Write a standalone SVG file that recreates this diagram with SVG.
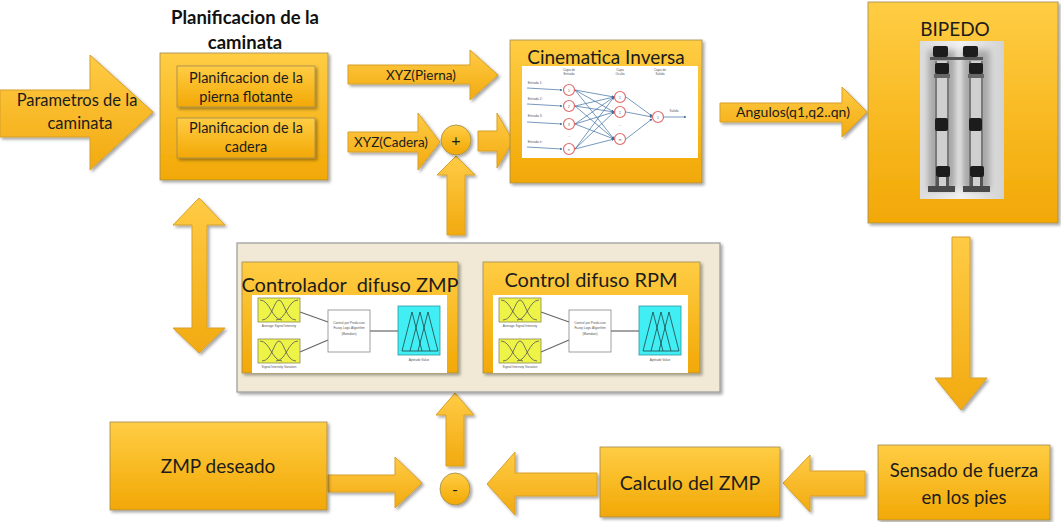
<svg xmlns="http://www.w3.org/2000/svg" width="1061" height="522" viewBox="0 0 1061 522">
<style>
.box{fill:url(#gBox);stroke:#a08a50;stroke-width:0.8;filter:url(#sh)}
.arr{fill:url(#gArr);stroke:#d6a02a;stroke-width:1;filter:url(#sh)}
.t{font-family:Lato,"Open Sans","Liberation Sans",sans-serif;fill:#1c1c1c;text-anchor:middle}
.tb{font-family:Lato,"Open Sans","Liberation Sans",sans-serif;font-weight:bold;fill:#111;text-anchor:middle}
.tiny{font-family:"Liberation Sans",Arial,sans-serif;fill:#555;text-anchor:middle;font-size:3.2px}
.nn{fill:#fff;stroke:#e06a6a;stroke-width:1.2}
.nl{stroke:#3c6ea0;stroke-width:0.7;fill:none}
.yel{fill:#eef348;stroke:#8a8a50;stroke-width:0.8}
.mf{fill:none;stroke:#555;stroke-width:0.8}
.cy{fill:#40eef4;stroke:#2a9aa0;stroke-width:0.8}
.tri{fill:none;stroke:#244;stroke-width:0.8}
.ln{stroke:#666;stroke-width:1.2}
.srv{fill:#1e1e1e}
.rod{fill:#7a7a7a}
.lsh{fill:#a8a8a8}
</style>
<defs>
<linearGradient id="gBox" x1="0" y1="0" x2="0" y2="1"><stop offset="0" stop-color="#ffcd44"/><stop offset="1" stop-color="#f2a805"/></linearGradient>
<linearGradient id="gArr" x1="0" y1="0" x2="0" y2="1"><stop offset="0" stop-color="#ffcb45"/><stop offset="1" stop-color="#f2aa10"/></linearGradient>
<linearGradient id="gPhoto" x1="0" y1="0" x2="1" y2="0"><stop offset="0" stop-color="#dcdcdc"/><stop offset="0.5" stop-color="#f2f2f2"/><stop offset="1" stop-color="#d2d2d2"/></linearGradient>
<filter id="sh" x="-10%" y="-10%" width="130%" height="130%"><feDropShadow dx="2" dy="2" stdDeviation="1.5" flood-color="#000" flood-opacity="0.35"/></filter>
<filter id="bl" x="-20%" y="-20%" width="140%" height="140%"><feGaussianBlur stdDeviation="0.6"/></filter>
<filter id="bl2" x="-50%" y="-20%" width="200%" height="140%"><feGaussianBlur stdDeviation="3"/></filter>
<marker id="ah" viewBox="0 0 6 6" refX="5" refY="3" markerWidth="4" markerHeight="4" orient="auto"><path d="M0,0 L6,3 L0,6 Z" fill="#3c6ea0"/></marker>
<g id="fuzzy">
<rect x="252" y="295" width="195" height="78" fill="#fff"/>
<line class="ln" x1="300" y1="312" x2="328" y2="322"/>
<line class="ln" x1="300" y1="352" x2="328" y2="340"/>
<line class="ln" x1="370" y1="331" x2="398" y2="331"/>
<rect class="yel" x="258" y="298" width="42" height="24"/>
<path class="mf" d="M260,300 C270,300 272,320 282,320 M276,320 C286,320 288,300 298,300 M262,320 C272,320 274,300 279,300 C284,300 286,320 296,320"/>
<text class="tiny" x="279" y="327">Average Signal Intensity</text>
<rect class="yel" x="258" y="339" width="42" height="24"/>
<path class="mf" d="M260,341 C270,341 272,361 282,361 M276,361 C286,361 288,341 298,341 M262,361 C272,361 274,341 279,341 C284,341 286,361 296,361"/>
<text class="tiny" x="279" y="368">Signal Intensity Variation</text>
<rect x="328" y="310" width="42" height="42" fill="#fff" stroke="#888" stroke-width="0.8"/>
<text class="tiny" x="349" y="324">Control por Prediccion</text>
<text class="tiny" x="349" y="329">Fuzzy Logic Algorithm</text>
<text class="tiny" x="349" y="335">(Mamdani)</text>
<rect class="cy" x="398" y="306" width="42" height="49"/>
<path class="tri" d="M402,351 L412,312 L422,351 M410,351 L420,312 L430,351 M418,351 L428,312 L438,351 M402,351 L438,351"/>
<text class="tiny" x="419" y="361">Aptitude Value</text>
</g>
</defs>
<rect width="1061" height="522" fill="#fff"/>

<g id="connectors">
<path class="arr" d="M0,90 L90,90 L90,55 L153,112 L90,170 L90,137 L0,137 Z"/>
<path class="arr" d="M348,65 L470,65 L470,50 L498,75 L470,100 L470,84 L348,84 Z"/>
<path class="arr" d="M348,132 L418,132 L418,113 L440,142 L418,170 L418,152 L348,152 Z"/>
<path class="arr" d="M478,131 L497,131 L497,113 L513,141 L497,168 L497,151 L478,151 Z"/>
<path class="arr" d="M447,235 L447,175 L437,175 L456,156 L475,175 L465,175 L465,235 Z"/>
<path class="arr" d="M720,103 L842,103 L842,87 L867,112 L842,137 L842,122 L720,122 Z"/>
<path class="arr" d="M952,237 L970,237 L970,378 L987,378 L961,410 L935,378 L952,378 Z"/>
<path class="arr" d="M865,471 L810,471 L810,455 L783,483 L810,512 L810,496 L865,496 Z"/>
<path class="arr" d="M597,473 L515,473 L515,452 L487,484 L515,515 L515,496 L597,496 Z"/>
<path class="arr" d="M328,475 L395,475 L395,457 L422,483 L395,508 L395,492 L328,492 Z"/>
<path class="arr" d="M446,466 L446,415 L436,415 L455,393 L474,415 L464,415 L464,466 Z"/>
<path class="arr" d="M199,198 L225,225 L207,225 L207,328 L225,328 L199,353 L173,328 L192,328 L192,225 L173,225 Z"/>
<text class="t" x="77" y="106" font-size="16.5">Parametros de la</text>
<text class="t" x="80" y="129" font-size="16.5">caminata</text>
<text class="t" x="421" y="80" font-size="13.5">XYZ(Pierna)</text>
<text class="t" x="391" y="147" font-size="13.5">XYZ(Cadera)</text>
<text class="t" x="793" y="117" font-size="14">Angulos(q1,q2..qn)</text>
</g>

<g id="sum_plus">
<circle class="box" cx="456" cy="140" r="15"/>
<text class="t" x="456" y="146" font-size="16">+</text>
</g>
<g id="sum_minus">
<ellipse class="box" cx="455" cy="489" rx="15" ry="16"/>
<text class="t" x="455" y="495" font-size="16">-</text>
</g>

<g id="planificacion">
<text class="tb" x="245" y="24" font-size="18.5">Planificacion de la</text>
<text class="tb" x="245" y="49" font-size="18.5">caminata</text>
<rect class="box" x="160" y="53" width="168" height="127"/>
<rect class="box" x="177" y="66" width="138" height="41"/>
<text class="t" x="246" y="83" font-size="14.5">Planificacion de la</text>
<text class="t" x="246" y="102" font-size="14.5">pierna flotante</text>
<rect class="box" x="177" y="118" width="138" height="40"/>
<text class="t" x="246" y="133" font-size="14.5">Planificacion de la</text>
<text class="t" x="246" y="152" font-size="14.5">cadera</text>
</g>

<g id="cinematica">
<rect class="box" x="510" y="40" width="192" height="143"/>
<text class="t" x="606" y="64" font-size="19">Cinematica Inversa</text>
<rect x="522" y="66" width="176" height="92" fill="#fff"/>
<text class="tiny" x="569" y="71">Capa de</text><text class="tiny" x="569" y="75">Entrada</text>
<text class="tiny" x="620" y="71">Capa</text><text class="tiny" x="620" y="75">Oculta</text>
<text class="tiny" x="660" y="71">Capa de</text><text class="tiny" x="660" y="75">Salida</text>
<text class="tiny" x="535" y="84">Entrada 1:</text>
<text class="tiny" x="535" y="100">Entrada 2:</text>
<text class="tiny" x="535" y="117">Entrada 3:</text>
<text class="tiny" x="535" y="143">Entrada n:</text>
<g class="nl" marker-end="url(#ah)">
<line x1="527" y1="88" x2="562" y2="90"/>
<line x1="527" y1="104" x2="562" y2="106"/>
<line x1="527" y1="122" x2="562" y2="124"/>
<line x1="527" y1="147" x2="562" y2="149"/>
<line x1="575" y1="90" x2="614" y2="97"/><line x1="575" y1="90" x2="614" y2="112"/><line x1="575" y1="90" x2="614" y2="139"/>
<line x1="575" y1="106" x2="614" y2="97"/><line x1="575" y1="106" x2="614" y2="112"/><line x1="575" y1="106" x2="614" y2="139"/>
<line x1="575" y1="124" x2="614" y2="97"/><line x1="575" y1="124" x2="614" y2="112"/><line x1="575" y1="124" x2="614" y2="139"/>
<line x1="575" y1="149" x2="614" y2="97"/><line x1="575" y1="149" x2="614" y2="112"/><line x1="575" y1="149" x2="614" y2="139"/>
<line x1="626" y1="97" x2="652" y2="116"/><line x1="626" y1="112" x2="652" y2="117"/><line x1="626" y1="139" x2="652" y2="119"/>
<line x1="664" y1="117" x2="686" y2="117"/>
</g>
<text class="tiny" x="674" y="112">Salida</text>
<circle class="nn" cx="569" cy="90" r="5.5"/><text class="tiny" x="569" y="92" font-size="5">1</text>
<circle class="nn" cx="569" cy="106" r="5.5"/><text class="tiny" x="569" y="108" font-size="5">2</text>
<circle class="nn" cx="569" cy="124" r="5.5"/><text class="tiny" x="569" y="126" font-size="5">3</text>
<text class="tiny" x="569" y="137">...</text>
<circle class="nn" cx="569" cy="149" r="5.5"/><text class="tiny" x="569" y="151" font-size="5">n</text>
<circle class="nn" cx="620" cy="97" r="5.5"/><text class="tiny" x="620" y="99" font-size="5">1</text>
<circle class="nn" cx="620" cy="112" r="5.5"/><text class="tiny" x="620" y="114" font-size="5">2</text>
<text class="tiny" x="620" y="126">...</text>
<circle class="nn" cx="620" cy="139" r="5.5"/><text class="tiny" x="620" y="141" font-size="5">m</text>
<circle class="nn" cx="658" cy="117" r="5.5"/><text class="tiny" x="658" y="119" font-size="5">1</text>
</g>

<g id="bipedo">
<rect class="box" x="868" y="2" width="190" height="221"/>
<text class="t" x="955" y="36" font-size="19">BIPEDO</text>
<rect x="920" y="41" width="84" height="158" fill="url(#gPhoto)"/>
<rect class="lsh" x="928" y="50" width="28" height="140" filter="url(#bl2)"/>
<rect class="lsh" x="962" y="50" width="28" height="140" filter="url(#bl2)"/>
<g filter="url(#bl)">
<rect class="srv" x="933" y="46" width="15" height="11" rx="2"/>
<rect class="srv" x="963" y="46" width="15" height="11" rx="2"/>
<rect x="930" y="57" width="53" height="3" fill="#555"/>
<rect class="rod" x="935" y="61" width="2" height="126"/>
<rect class="rod" x="947" y="61" width="2" height="126"/>
<rect class="rod" x="969" y="61" width="2" height="126"/>
<rect class="rod" x="981" y="61" width="2" height="126"/>
<rect x="937" y="61" width="10" height="126" fill="#cfcfcf"/>
<rect x="971" y="61" width="10" height="126" fill="#cfcfcf"/>
<rect class="srv" x="935" y="63" width="14" height="11" rx="2"/>
<rect x="934" y="74" width="16" height="4" fill="#666"/>
<rect class="srv" x="969" y="63" width="14" height="11" rx="2"/>
<rect x="968" y="74" width="16" height="4" fill="#666"/>
<rect class="srv" x="935" y="118" width="13" height="13" rx="2"/>
<rect class="srv" x="969" y="118" width="13" height="13" rx="2"/>
<rect class="srv" x="936" y="166" width="14" height="11" rx="2"/>
<rect class="srv" x="970" y="166" width="14" height="11" rx="2"/>
<rect x="936" y="177" width="3" height="9" fill="#555"/><rect x="946" y="177" width="3" height="9" fill="#555"/>
<rect x="970" y="177" width="3" height="9" fill="#555"/><rect x="980" y="177" width="3" height="9" fill="#555"/>
<rect x="928" y="186" width="27" height="6" fill="#4a4a4a"/>
<rect x="963" y="186" width="27" height="6" fill="#4a4a4a"/>
</g>
</g>

<g id="controladores">
<rect x="237" y="243" width="483" height="149" fill="#f1e9d6" stroke="#9a9a9a" stroke-width="1.2" filter="url(#sh)"/>
<g id="zmp_ctrl">
<rect class="box" x="242" y="262" width="216" height="111"/>
<use href="#fuzzy"/>
<text class="t" x="350" y="292" font-size="20" xml:space="preserve" fill="#1a1a10">Controlador  difuso ZMP</text>
</g>
<g id="rpm_ctrl">
<rect class="box" x="483" y="262" width="217" height="111"/>
<use href="#fuzzy" x="241"/>
<text class="t" x="591" y="287" font-size="20" fill="#1a1a10">Control difuso RPM</text>
</g>
</g>

<g id="zmp_deseado">
<rect class="box" x="110" y="422" width="217" height="88"/>
<text class="t" x="218" y="473" font-size="19">ZMP deseado</text>
</g>
<g id="calculo">
<rect class="box" x="600" y="447" width="180" height="70"/>
<text class="t" x="690" y="490" font-size="19.5">Calculo del ZMP</text>
</g>
<g id="sensado">
<rect class="box" x="878" y="445" width="172" height="75"/>
<text class="t" x="964" y="477" font-size="18.5">Sensado de fuerza</text>
<text class="t" x="964" y="504" font-size="18.5">en los pies</text>
</g>
</svg>
